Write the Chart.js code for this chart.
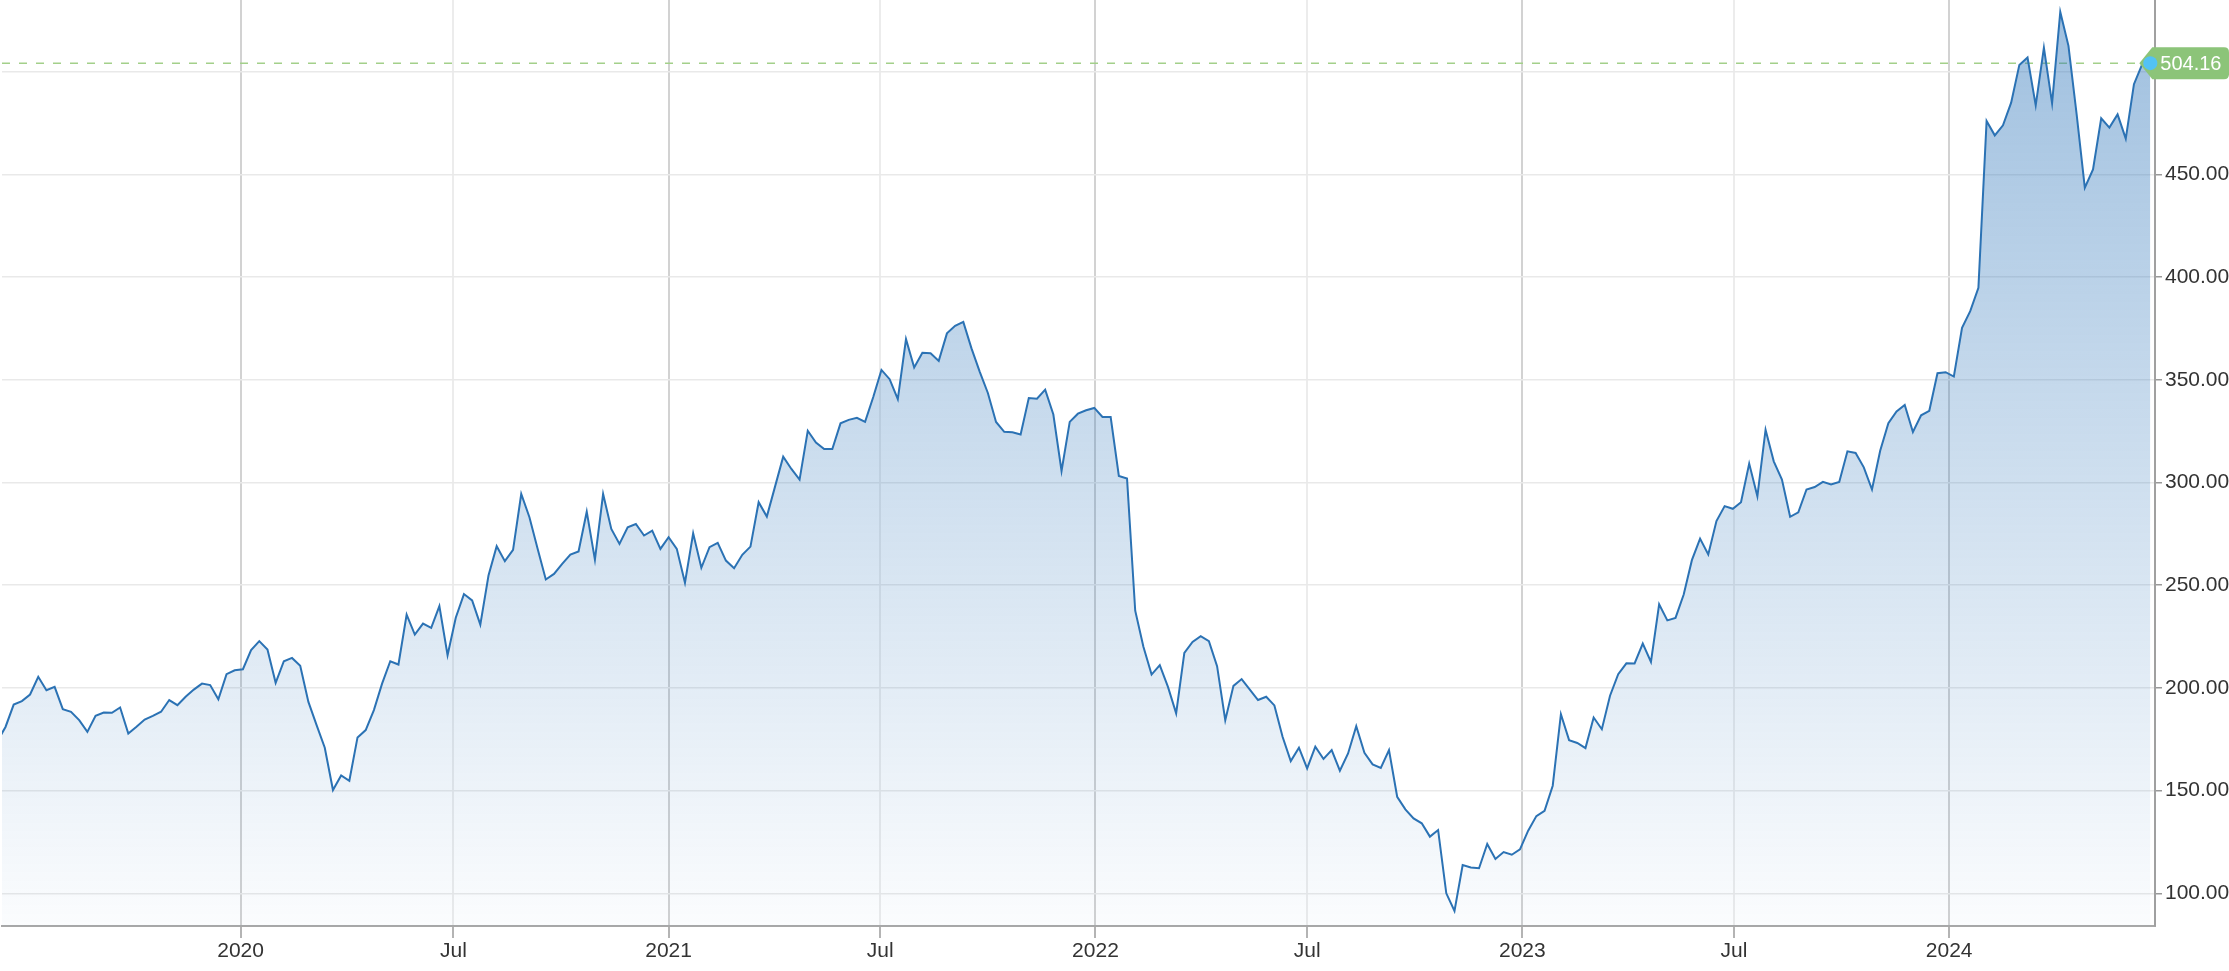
<!DOCTYPE html>
<html>
<head>
<meta charset="utf-8">
<title>Weekly close</title>
<script src="https://cdn.jsdelivr.net/npm/chart.js@4.4.1/dist/chart.umd.min.js"></script>
<style>
  html, body { margin: 0; padding: 0; background: #fff; }
  #wrap { position: relative; width: 2229px; height: 971px; }
</style>
</head>
<body>
<div id="wrap"><canvas id="price-chart"></canvas></div>
<script>
// ─── Data ───────────────────────────────────────────────────

// weekly closes, one per Friday starting at FIRST_WEEK
const FIRST_WEEK = '2019-06-07';
const closes = [
  174.0, 181.0, 191.9, 193.6, 196.8, 205.4, 198.9, 200.5, 189.7, 188.4,
  184.3, 178.6, 186.4, 188.0, 187.9, 190.5, 177.8, 181.1, 184.6, 186.4,
  188.4, 194.1, 191.6, 195.7, 199.2, 202.1, 201.4, 194.5, 206.7, 208.6,
  209.1, 218.4, 222.8, 218.7, 202.5, 213.0, 214.6, 210.8, 193.2, 181.9,
  170.9, 150.3, 157.4, 154.8, 175.9, 179.5, 189.2, 202.1, 213.0, 211.4,
  235.7, 226.0, 231.3, 229.2, 239.8, 215.9, 234.2, 245.7, 242.6, 230.8,
  254.7, 269.0, 261.7, 267.2, 294.4, 283.1, 267.7, 252.8, 255.5, 260.4,
  264.9, 266.4, 285.8, 262.5, 294.4, 277.4, 270.1, 278.2, 279.8, 274.2,
  276.6, 267.7, 273.4, 267.7, 251.2, 275.3, 258.5, 268.5, 270.6, 262.0,
  258.3, 264.8, 268.8, 290.4, 283.4, 298.0, 312.6, 306.6, 301.4, 325.2,
  319.5, 316.3, 316.3, 328.8, 330.5, 331.5, 329.5, 341.6, 354.8, 350.3,
  340.6, 369.8, 356.0, 363.2, 362.9, 359.2, 372.6, 376.3, 378.2, 365.3,
  354.0, 343.6, 329.5, 324.7, 324.5, 323.4, 341.1, 340.8, 345.2, 333.1,
  305.6, 329.5, 333.5, 335.2, 336.3, 331.9, 331.9, 303.2, 301.9, 237.6,
  220.0, 206.5, 211.1, 200.5, 187.6, 217.1, 222.4, 225.2, 222.8, 210.6,
  184.3, 201.0, 204.3, 199.2, 194.1, 195.7, 191.5, 176.2, 164.4, 170.9,
  160.8, 171.4, 165.4, 169.7, 159.7, 168.1, 181.4, 168.4, 162.8, 161.1,
  169.7, 147.0, 140.9, 136.5, 134.1, 127.6, 130.8, 100.0, 91.4, 113.8,
  112.6, 112.2, 124.0, 116.7, 120.1, 118.8, 121.4, 130.5, 137.6, 140.2,
  152.4, 187.2, 174.6, 173.2, 170.7, 185.6, 179.9, 196.2, 206.7, 212.0,
  211.9, 221.6, 212.7, 240.7, 232.9, 234.1, 245.5, 262.2, 272.7, 265.0,
  281.2, 288.5, 287.2, 290.4, 309.2, 293.3, 325.7, 310.3, 301.4, 283.3,
  285.5, 296.6, 297.8, 300.3, 299.0, 300.3, 315.2, 314.4, 307.4, 296.6,
  315.5, 328.9, 334.6, 337.8, 324.6, 332.7, 334.9, 353.2, 353.7, 351.6,
  375.3, 383.4, 394.8, 476.0, 469.0, 473.9, 484.9, 503.3, 506.9, 483.6,
  511.7, 484.6, 529.1, 512.6, 479.2, 443.5, 452.4, 477.3, 472.8, 479.2,
  467.4, 493.9, 503.6, 504.16,
];

const xTickDates = ['2020-01-01', '2020-07-01', '2021-01-01', '2021-07-01', '2022-01-01',
                    '2022-07-01', '2023-01-01', '2023-07-01', '2024-01-01'];
const xTickLabels = ['2020', 'Jul', '2021', 'Jul', '2022', 'Jul', '2023', 'Jul', '2024'];
const yTicks = [100, 150, 200, 250, 300, 350, 400, 450, 500];
const lastPrice = 504.16;

// visible window
const X_FROM = '2019-06-11';
const X_TO = '2024-06-25';
const Y_MIN = 84.1;
const Y_MAX = 534.9;

// ─── Helpers ────────────────────────────────────────────────

const DAY = 86400000;
const dayOf = s => (Date.parse(s) - Date.parse(FIRST_WEEK)) / DAY;

const points = closes.map((v, i) => ({ x: i * 7, y: v }));
const xTicks = xTickDates.map(dayOf);

const FONT = "'Liberation Sans', Arial, Helvetica, sans-serif";
const LINE_BLUE = '#2b72b4';

// ─── Last price marker (dashed line, badge, dot) ────────────

const lastPricePlugin = {
  id: 'lastPrice',
  beforeDatasetsDraw(chart) {
    const { ctx, chartArea, scales } = chart;
    const py = scales.y.getPixelForValue(lastPrice);
    const px = scales.x.getPixelForValue(points[points.length - 1].x);
    ctx.save();
    ctx.strokeStyle = '#a3d08a';
    ctx.lineWidth = 1.5;
    ctx.setLineDash([8, 9]);
    ctx.beginPath();
    ctx.moveTo(chartArea.left, py);
    ctx.lineTo(px, py);
    ctx.stroke();
    ctx.restore();
  },
  afterDraw(chart) {
    const { ctx, scales, width } = chart;
    const py = scales.y.getPixelForValue(lastPrice);
    const px = scales.x.getPixelForValue(points[points.length - 1].x);
    const h = 16;
    const r = 5;
    const left = px + 2;

    ctx.save();
    ctx.fillStyle = '#8cc479';
    ctx.beginPath();
    ctx.moveTo(px - 11, py);
    ctx.lineTo(left, py - h);
    ctx.lineTo(width - r, py - h);
    ctx.quadraticCurveTo(width, py - h, width, py - h + r);
    ctx.lineTo(width, py + h - r);
    ctx.quadraticCurveTo(width, py + h, width - r, py + h);
    ctx.lineTo(left, py + h);
    ctx.closePath();
    ctx.fill();

    ctx.fillStyle = '#fff';
    ctx.font = `20px ${FONT}`;
    ctx.textBaseline = 'middle';
    ctx.textAlign = 'left';
    ctx.fillText(lastPrice.toFixed(2), px + 10, py + 1);

    ctx.fillStyle = '#52c2f5';
    ctx.beginPath();
    ctx.arc(px, py, 7, 0, Math.PI * 2);
    ctx.fill();
    ctx.restore();
  },
};

// ─── Chart ──────────────────────────────────────────────────

function renderPriceChart() {
  const canvas = document.getElementById('price-chart');

  return new Chart(canvas, {
    type: 'line',
    data: {
      datasets: [{
        data: points,
        borderColor: LINE_BLUE,
        borderWidth: 2,
        pointRadius: 0,
        tension: 0,
        fill: 'start',
        backgroundColor: ctx => {
          const area = ctx.chart.chartArea;
          if (!area) return 'rgba(44,116,185,0.2)';
          const g = ctx.chart.ctx.createLinearGradient(0, area.top, 0, area.bottom);
          g.addColorStop(0, 'rgba(44,116,185,0.46)');
          g.addColorStop(1, 'rgba(44,116,185,0.02)');
          return g;
        },
      }],
    },
    options: {
      responsive: true,
      maintainAspectRatio: false,
      animation: false,
      events: [],
      layout: { padding: { left: 2, top: 0, right: 0, bottom: 0 } },
      plugins: {
        legend: { display: false },
        tooltip: { enabled: false },
      },
      scales: {
        x: {
          type: 'linear',
          min: dayOf(X_FROM),
          max: dayOf(X_TO),
          afterBuildTicks: scale => { scale.ticks = xTicks.map(v => ({ value: v })); },
          afterFit: scale => {
            scale.height = 45;
            scale.paddingLeft = 0;
            scale.paddingRight = 0;
          },
          ticks: {
            autoSkip: false,
            maxRotation: 0,
            padding: 1,
            color: '#333',
            font: { family: FONT, size: 21 },
            callback: (v, i) => xTickLabels[i],
          },
          grid: {
            color: c => (xTickLabels[c.index] === 'Jul' ? '#ececec' : '#d2d2d2'),
            lineWidth: 2,
            tickColor: '#b4b4b4',
            tickLength: 12,
          },
          border: { color: '#a8a8a8', width: 2 },
        },
        y: {
          position: 'right',
          min: Y_MIN,
          max: Y_MAX,
          afterBuildTicks: scale => { scale.ticks = yTicks.map(v => ({ value: v })); },
          afterFit: scale => {
            scale.width = 74;
            scale.paddingTop = 0;
            scale.paddingBottom = 0;
          },
          ticks: {
            padding: 3,
            color: '#333',
            font: { family: FONT, size: 21 },
            callback: v => v.toFixed(2),
          },
          grid: {
            color: '#e9e9e9',
            lineWidth: 1.5,
            tickColor: '#999',
            tickLength: 7,
          },
          border: { color: '#a0a0a0', width: 2 },
        },
      },
    },
    plugins: [lastPricePlugin],
  });
}

// ─── Init ───────────────────────────────────────────────────

renderPriceChart();
</script>
</body>
</html>
